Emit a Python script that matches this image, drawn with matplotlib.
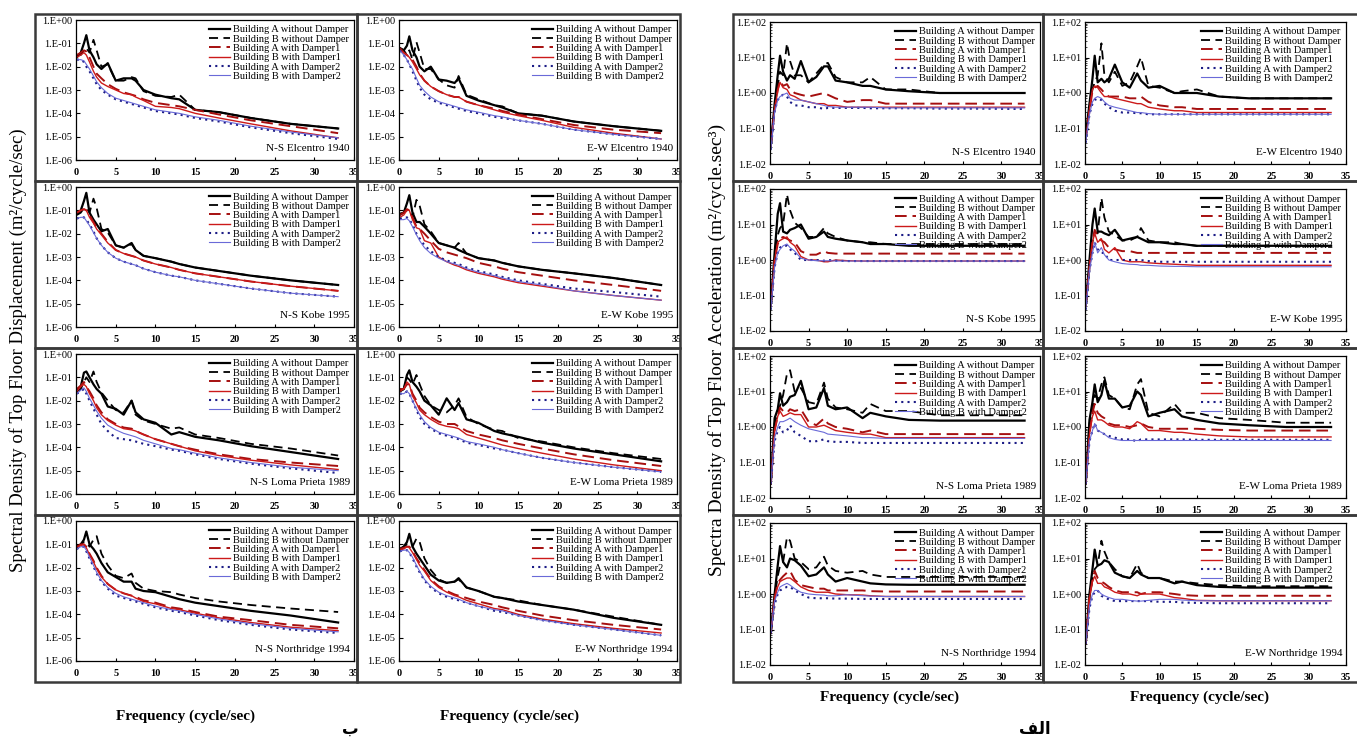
import numpy as np
import matplotlib
matplotlib.use('Agg')
import matplotlib.pyplot as plt
from matplotlib.patches import Rectangle
from matplotlib.ticker import FixedLocator, LogLocator, NullFormatter

plt.rcParams['font.family'] = ['Liberation Serif', 'DejaVu Serif']

# frequency grid (cycle/sec), values below are log10 of the spectral density
freq = [0.1, 0.6, 1.0, 1.3, 1.7, 2.2, 2.6, 3.2, 4.0, 5.0, 6.0, 7.0, 7.5, 8.5, 10, 12, 13, 15, 18, 22, 27, 33]

series_names = ['Building A without Damper', 'Building B without Damper',
                'Building A with Damper1', 'Building B with Damper1',
                'Building A with Damper2', 'Building B with Damper2']

# ---- displacement (group "b") ----
disp_ns_elcentro = [
    [-1.6, -1.4, -1.0, -0.65, -1.3, -1.6, -1.9, -2.1, -1.85, -2.6, -2.5, -2.5, -2.6, -3.0, -3.2, -3.35, -3.4, -3.85, -3.95, -4.2, -4.45, -4.65],
    [-1.5, -1.5, -1.3, -1.2, -1.4, -0.85, -1.3, -2.0, -1.9, -2.6, -2.6, -2.45, -2.5, -3.05, -3.25, -3.3, -3.2, -3.85, -3.95, -4.2, -4.45, -4.65],
    [-1.5, -1.4, -1.3, -1.35, -1.6, -2.0, -2.3, -2.5, -2.75, -2.95, -3.1, -3.2, -3.25, -3.4, -3.55, -3.65, -3.7, -3.85, -4.05, -4.3, -4.55, -4.85],
    [-1.6, -1.5, -1.4, -1.5, -1.8, -2.2, -2.45, -2.7, -2.85, -3.0, -3.15, -3.2, -3.3, -3.45, -3.7, -3.75, -3.8, -4.0, -4.2, -4.45, -4.75, -5.05],
    [-1.7, -1.7, -1.8, -2.0, -2.2, -2.5, -2.75, -3.0, -3.2, -3.4, -3.5, -3.6, -3.65, -3.75, -3.9, -4.0, -4.05, -4.2, -4.35, -4.6, -4.85, -5.1],
    [-1.7, -1.7, -1.75, -1.9, -2.1, -2.4, -2.65, -2.9, -3.15, -3.35, -3.45, -3.55, -3.6, -3.7, -3.85, -3.95, -4.0, -4.15, -4.3, -4.55, -4.8, -5.05],
]
disp_ew_elcentro = [
    [-1.2, -1.3, -1.1, -0.7, -1.3, -1.6, -2.0, -2.2, -2.0, -2.55, -2.6, -2.7, -2.5, -3.25, -3.45, -3.65, -3.75, -4.0, -4.1, -4.35, -4.55, -4.75],
    [-1.2, -1.3, -1.5, -1.3, -1.7, -0.95, -1.4, -2.1, -2.1, -2.55, -2.8, -2.9, -2.4, -3.2, -3.4, -3.65, -3.7, -4.0, -4.1, -4.35, -4.55, -4.75],
    [-1.2, -1.4, -1.5, -1.6, -1.7, -2.0, -2.3, -2.6, -2.85, -3.05, -3.2, -3.3, -3.3, -3.5, -3.65, -3.8, -3.9, -4.05, -4.25, -4.5, -4.7, -4.85],
    [-1.3, -1.4, -1.5, -1.6, -1.8, -2.1, -2.35, -2.6, -2.85, -3.05, -3.2, -3.3, -3.3, -3.5, -3.65, -3.85, -3.95, -4.1, -4.3, -4.6, -4.85, -5.1],
    [-1.3, -1.5, -1.7, -1.9, -2.2, -2.6, -2.9, -3.2, -3.4, -3.55, -3.65, -3.75, -3.8, -3.9, -4.0, -4.15, -4.2, -4.3, -4.45, -4.7, -4.9, -5.1],
    [-1.3, -1.5, -1.7, -1.9, -2.1, -2.5, -2.8, -3.05, -3.3, -3.5, -3.6, -3.7, -3.75, -3.85, -3.95, -4.1, -4.15, -4.3, -4.45, -4.7, -4.9, -5.1],
]
disp_ns_kobe = [
    [-1.15, -1.0, -0.6, -0.25, -1.1, -1.4, -1.6, -1.9, -1.8, -2.5, -2.6, -2.4, -2.7, -2.95, -3.05, -3.2, -3.3, -3.45, -3.6, -3.8, -4.0, -4.2],
    [-1.2, -1.1, -0.9, -0.9, -1.1, -0.5, -0.9, -1.8, -1.95, -2.5, -2.6, -2.45, -2.7, -2.95, -3.05, -3.2, -3.3, -3.45, -3.6, -3.8, -4.0, -4.2],
    [-1.1, -1.0, -0.95, -1.0, -1.2, -1.5, -1.75, -2.0, -2.35, -2.7, -2.85, -2.95, -3.0, -3.15, -3.3, -3.45, -3.55, -3.7, -3.85, -4.05, -4.25, -4.45],
    [-1.1, -1.0, -0.95, -1.0, -1.3, -1.55, -1.8, -2.05, -2.4, -2.7, -2.85, -2.95, -3.0, -3.15, -3.3, -3.45, -3.55, -3.7, -3.85, -4.05, -4.25, -4.45],
    [-1.35, -1.3, -1.3, -1.4, -1.6, -1.9, -2.2, -2.5, -2.8, -3.05, -3.2, -3.3, -3.35, -3.5, -3.65, -3.8, -3.85, -4.0, -4.15, -4.35, -4.55, -4.7],
    [-1.35, -1.3, -1.3, -1.45, -1.65, -1.95, -2.2, -2.5, -2.8, -3.05, -3.2, -3.3, -3.35, -3.5, -3.65, -3.8, -3.85, -4.0, -4.15, -4.35, -4.55, -4.7],
]
disp_ew_kobe = [
    [-1.15, -1.1, -0.7, -0.35, -1.1, -1.5, -1.5, -1.7, -2.0, -2.4, -2.5, -2.6, -2.7, -2.85, -3.05, -3.15, -3.25, -3.4, -3.55, -3.7, -3.9, -4.2],
    [-1.2, -1.1, -1.0, -1.0, -1.3, -0.55, -0.8, -1.6, -1.9, -2.4, -2.5, -2.6, -2.4, -2.85, -3.05, -3.15, -3.25, -3.4, -3.55, -3.7, -3.9, -4.2],
    [-1.2, -1.1, -0.95, -1.0, -1.3, -1.7, -1.8, -2.0, -2.3, -2.65, -2.8, -2.9, -2.95, -3.05, -3.25, -3.4, -3.5, -3.65, -3.8, -4.0, -4.2, -4.45],
    [-1.3, -1.2, -1.0, -1.0, -1.4, -1.75, -1.8, -2.3, -2.4, -3.0, -3.2, -3.35, -3.4, -3.55, -3.7, -3.85, -3.95, -4.1, -4.25, -4.45, -4.65, -4.85],
    [-1.35, -1.35, -1.3, -1.4, -1.6, -2.0, -2.2, -2.5, -2.75, -3.0, -3.15, -3.25, -3.3, -3.45, -3.6, -3.75, -3.85, -4.0, -4.15, -4.35, -4.5, -4.7],
    [-1.4, -1.4, -1.35, -1.45, -1.7, -2.05, -2.3, -2.6, -2.85, -3.05, -3.2, -3.3, -3.35, -3.5, -3.65, -3.8, -3.9, -4.05, -4.2, -4.45, -4.65, -4.85],
]
disp_ns_loma = [
    [-1.6, -1.4, -0.8, -0.75, -1.0, -1.3, -1.5, -1.7, -2.25, -2.35, -2.6, -2.0, -2.5, -2.8, -2.95, -3.45, -3.35, -3.55, -3.7, -3.95, -4.2, -4.5],
    [-1.6, -1.5, -1.2, -1.0, -1.2, -0.75, -1.2, -1.65, -2.0, -2.4, -2.5, -2.0, -2.6, -2.85, -3.0, -3.2, -3.15, -3.45, -3.6, -3.85, -4.05, -4.35],
    [-1.5, -1.35, -1.2, -1.4, -1.6, -1.9, -2.2, -2.5, -2.8, -3.0, -3.15, -3.2, -3.3, -3.45, -3.65, -3.85, -3.95, -4.1, -4.3, -4.5, -4.65, -4.8],
    [-1.6, -1.4, -1.3, -1.4, -1.7, -2.0, -2.3, -2.6, -2.85, -3.05, -3.2, -3.25, -3.3, -3.45, -3.65, -3.85, -3.95, -4.15, -4.35, -4.55, -4.75, -4.95],
    [-1.7, -1.6, -1.5, -1.7, -2.0, -2.35, -2.6, -3.0, -3.3, -3.6, -3.65, -3.7, -3.75, -3.85, -3.95, -4.1, -4.15, -4.3, -4.5, -4.7, -4.9, -5.1],
    [-1.7, -1.55, -1.45, -1.6, -1.9, -2.2, -2.45, -2.75, -3.05, -3.25, -3.4, -3.5, -3.55, -3.7, -3.85, -4.05, -4.1, -4.25, -4.45, -4.65, -4.85, -5.0],
]
disp_ew_loma = [
    [-1.6, -1.5, -0.9, -0.7, -1.2, -1.4, -1.6, -2.0, -2.2, -2.6, -1.9, -2.4, -2.1, -2.8, -2.95, -3.3, -3.4, -3.55, -3.8, -4.05, -4.3, -4.6],
    [-1.6, -1.5, -1.0, -1.1, -1.3, -0.9, -1.3, -1.8, -2.2, -2.4, -2.5, -2.2, -1.9, -2.7, -3.0, -3.25, -3.3, -3.6, -3.75, -4.0, -4.25, -4.5],
    [-1.5, -1.5, -1.3, -1.3, -1.7, -2.0, -2.3, -2.5, -2.7, -2.9, -3.0, -3.0, -3.1, -3.3, -3.45, -3.6, -3.7, -3.85, -4.05, -4.3, -4.55, -4.8],
    [-1.6, -1.5, -1.2, -1.3, -1.8, -2.1, -2.4, -2.6, -2.8, -3.0, -3.1, -3.15, -3.2, -3.45, -3.6, -3.8, -3.9, -4.05, -4.25, -4.5, -4.75, -5.0],
    [-1.7, -1.7, -1.6, -1.7, -2.0, -2.4, -2.7, -3.0, -3.2, -3.4, -3.5, -3.6, -3.65, -3.8, -3.9, -4.05, -4.1, -4.25, -4.45, -4.65, -4.85, -5.05],
    [-1.7, -1.7, -1.6, -1.7, -2.0, -2.35, -2.6, -2.9, -3.15, -3.35, -3.45, -3.55, -3.6, -3.75, -3.85, -4.0, -4.1, -4.25, -4.45, -4.65, -4.85, -5.05],
]
disp_ns_north = [
    [-1.1, -1.0, -0.8, -0.45, -1.0, -1.2, -1.4, -1.8, -2.2, -2.4, -2.6, -2.6, -2.9, -3.0, -3.05, -3.25, -3.35, -3.5, -3.65, -3.85, -4.05, -4.35],
    [-1.1, -1.0, -0.9, -0.9, -1.1, -0.8, -0.65, -1.4, -1.9, -2.35, -2.45, -2.25, -2.65, -2.9, -3.0, -3.05, -3.15, -3.3, -3.45, -3.6, -3.75, -3.9],
    [-1.1, -1.0, -1.0, -1.1, -1.4, -1.7, -2.0, -2.35, -2.7, -2.95, -3.1, -3.2, -3.25, -3.4, -3.5, -3.7, -3.75, -3.9, -4.1, -4.25, -4.45, -4.6],
    [-1.15, -1.05, -1.0, -1.15, -1.45, -1.75, -2.05, -2.4, -2.7, -2.95, -3.1, -3.2, -3.3, -3.45, -3.55, -3.75, -3.8, -3.95, -4.15, -4.35, -4.55, -4.7],
    [-1.2, -1.1, -1.1, -1.3, -1.6, -1.95, -2.25, -2.6, -2.9, -3.2, -3.3, -3.4, -3.45, -3.55, -3.7, -3.85, -3.9, -4.05, -4.25, -4.45, -4.65, -4.8],
    [-1.2, -1.1, -1.1, -1.25, -1.55, -1.9, -2.2, -2.55, -2.85, -3.1, -3.25, -3.35, -3.4, -3.5, -3.65, -3.8, -3.85, -4.0, -4.2, -4.4, -4.6, -4.75],
]
disp_ew_north = [
    [-1.2, -1.1, -0.9, -0.55, -1.1, -1.4, -1.6, -1.9, -2.3, -2.55, -2.65, -2.6, -2.45, -2.85, -3.0, -3.25, -3.3, -3.45, -3.6, -3.8, -4.15, -4.45],
    [-1.2, -1.1, -1.0, -1.0, -1.1, -0.75, -0.9, -1.6, -2.1, -2.5, -2.65, -2.6, -2.5, -2.85, -3.0, -3.25, -3.3, -3.4, -3.6, -3.8, -4.1, -4.45],
    [-1.2, -1.15, -1.1, -1.1, -1.3, -1.6, -1.8, -2.1, -2.5, -2.8, -3.0, -3.15, -3.2, -3.3, -3.45, -3.6, -3.7, -3.85, -4.05, -4.25, -4.45, -4.65],
    [-1.25, -1.2, -1.1, -1.15, -1.35, -1.65, -1.9, -2.15, -2.55, -2.85, -3.05, -3.2, -3.25, -3.4, -3.55, -3.75, -3.8, -4.0, -4.2, -4.4, -4.6, -4.8],
    [-1.3, -1.25, -1.25, -1.35, -1.6, -1.95, -2.2, -2.55, -2.85, -3.1, -3.25, -3.35, -3.4, -3.5, -3.65, -3.85, -3.9, -4.05, -4.25, -4.45, -4.65, -4.9],
    [-1.3, -1.25, -1.25, -1.35, -1.55, -1.9, -2.15, -2.5, -2.8, -3.05, -3.2, -3.3, -3.35, -3.5, -3.65, -3.8, -3.85, -4.05, -4.25, -4.45, -4.65, -4.9],
]

# ---- acceleration (group "alef") ----
acc_ns_elcentro = [
    [-1.5, -0.3, 0.5, 1.05, 0.6, 0.35, 0.5, 0.4, 0.9, 0.3, 0.45, 0.75, 0.75, 0.35, 0.3, 0.2, 0.2, 0.1, 0.05, 0.0, 0.0, 0.0],
    [-1.5, -0.4, 0.2, 0.6, 0.5, 1.4, 0.9, 0.5, 0.5, 0.3, 0.55, 0.8, 0.85, 0.45, 0.3, 0.3, 0.45, 0.1, 0.1, 0.0, 0.0, 0.0],
    [-1.5, -0.5, 0.1, 0.35, 0.2, 0.25, 0.1, 0.0, -0.05, -0.1, -0.05, 0.0, -0.05, -0.15, -0.25, -0.2, -0.2, -0.3, -0.3, -0.3, -0.3, -0.3],
    [-1.5, -0.45, 0.05, 0.3, 0.15, 0.1, -0.05, -0.1, -0.2, -0.25, -0.3, -0.3, -0.35, -0.35, -0.4, -0.4, -0.4, -0.4, -0.4, -0.4, -0.4, -0.4],
    [-1.6, -0.5, -0.2, -0.1, -0.05, -0.1, -0.25, -0.35, -0.35, -0.4, -0.4, -0.45, -0.42, -0.42, -0.42, -0.42, -0.43, -0.43, -0.43, -0.44, -0.44, -0.45],
    [-1.6, -0.55, -0.2, -0.1, -0.05, 0.0, -0.15, -0.2, -0.2, -0.25, -0.3, -0.35, -0.38, -0.4, -0.4, -0.4, -0.4, -0.42, -0.42, -0.42, -0.42, -0.42],
]
acc_ew_elcentro = [
    [-1.2, -0.3, 0.4, 1.05, 0.3, 0.4, 0.3, 0.4, 0.8, 0.3, 0.15, 0.55, 0.35, 0.15, 0.2, 0.0, 0.0, 0.0, -0.1, -0.15, -0.15, -0.15],
    [-1.2, -0.4, 0.1, 0.3, 0.5, 1.4, 0.5, 0.3, 0.6, 0.2, 0.3, 0.75, 1.0, 0.2, 0.15, 0.0, 0.05, 0.1, -0.1, -0.15, -0.15, -0.15],
    [-1.3, -0.5, 0.05, 0.15, 0.2, 0.1, 0.0, -0.1, -0.1, -0.1, -0.15, -0.15, -0.1, -0.25, -0.35, -0.4, -0.4, -0.45, -0.45, -0.45, -0.45, -0.45],
    [-1.3, -0.45, 0.1, 0.2, 0.15, 0.0, -0.1, -0.1, -0.15, -0.2, -0.25, -0.3, -0.3, -0.4, -0.45, -0.5, -0.5, -0.55, -0.55, -0.55, -0.55, -0.55],
    [-1.4, -0.6, -0.3, -0.2, -0.15, -0.2, -0.3, -0.4, -0.5, -0.55, -0.55, -0.57, -0.57, -0.6, -0.6, -0.6, -0.6, -0.6, -0.6, -0.6, -0.6, -0.6],
    [-1.4, -0.6, -0.25, -0.15, -0.1, -0.15, -0.25, -0.35, -0.4, -0.45, -0.5, -0.55, -0.55, -0.58, -0.6, -0.6, -0.6, -0.6, -0.6, -0.6, -0.6, -0.6],
]
acc_ns_kobe = [
    [-1.3, 0.2, 1.3, 1.6, 0.8, 0.75, 0.85, 0.9, 1.0, 0.6, 0.65, 0.8, 0.65, 0.6, 0.55, 0.5, 0.45, 0.45, 0.4, 0.4, 0.4, 0.4],
    [-1.3, 0.0, 0.7, 0.9, 1.0, 1.85, 1.4, 1.05, 0.9, 0.65, 0.65, 0.9, 0.75, 0.65, 0.55, 0.5, 0.5, 0.45, 0.45, 0.45, 0.45, 0.45],
    [-1.3, 0.0, 0.45, 0.6, 0.65, 0.6, 0.55, 0.5, 0.25, 0.15, 0.15, 0.25, 0.2, 0.18, 0.18, 0.18, 0.18, 0.18, 0.18, 0.18, 0.18, 0.18],
    [-1.3, 0.0, 0.5, 0.55, 0.6, 0.65, 0.5, 0.4, 0.1, 0.0, 0.0, -0.05, -0.05, 0.0, -0.02, -0.03, -0.03, -0.03, -0.03, -0.03, -0.03, -0.03],
    [-1.4, -0.2, 0.2, 0.35, 0.4, 0.4, 0.3, 0.2, 0.0, 0.0, 0.0, -0.02, 0.0, -0.02, -0.03, -0.03, -0.03, -0.03, -0.03, -0.03, -0.03, -0.03],
    [-1.4, -0.2, 0.2, 0.3, 0.4, 0.45, 0.35, 0.25, 0.05, 0.0, -0.02, -0.02, -0.02, -0.03, -0.03, -0.03, -0.03, -0.03, -0.03, -0.03, -0.03, -0.03],
]
acc_ew_kobe = [
    [-1.3, 0.0, 1.0, 1.45, 0.8, 0.8, 0.75, 0.7, 0.85, 0.55, 0.6, 0.65, 0.6, 0.5, 0.5, 0.45, 0.45, 0.4, 0.4, 0.4, 0.4, 0.4],
    [-1.3, -0.2, 0.5, 0.8, 0.75, 1.75, 1.2, 0.8, 0.7, 0.55, 0.55, 0.65, 0.9, 0.55, 0.5, 0.5, 0.45, 0.4, 0.4, 0.4, 0.4, 0.4],
    [-1.3, -0.2, 0.5, 0.85, 0.65, 0.55, 0.5, 0.35, 0.3, 0.25, 0.25, 0.2, 0.2, 0.2, 0.2, 0.2, 0.2, 0.2, 0.2, 0.2, 0.2, 0.2],
    [-1.3, -0.2, 0.5, 0.75, 0.5, 0.6, 0.3, 0.2, 0.35, 0.0, -0.05, -0.05, -0.05, -0.08, -0.1, -0.12, -0.13, -0.15, -0.15, -0.15, -0.15, -0.15],
    [-1.4, -0.3, 0.2, 0.5, 0.3, 0.2, 0.2, 0.0, 0.0, 0.0, 0.0, 0.0, 0.0, -0.03, -0.05, -0.05, -0.05, -0.05, -0.05, -0.05, -0.05, -0.05],
    [-1.4, -0.3, 0.2, 0.5, 0.2, 0.35, 0.15, 0.0, -0.05, -0.1, -0.12, -0.13, -0.15, -0.15, -0.17, -0.18, -0.18, -0.19, -0.19, -0.19, -0.19, -0.19],
]
acc_ns_loma = [
    [-1.6, 0.25, 0.5, 0.95, 0.6, 0.7, 0.85, 0.9, 1.3, 0.5, 0.55, 1.1, 0.6, 0.5, 0.55, 0.25, 0.4, 0.3, 0.2, 0.18, 0.18, 0.18],
    [-1.6, 0.1, 0.4, 0.6, 0.9, 1.5, 1.6, 1.0, 1.1, 0.7, 0.65, 1.25, 0.8, 0.55, 0.5, 0.4, 0.65, 0.45, 0.45, 0.33, 0.33, 0.33],
    [-1.6, -0.1, 0.3, 0.55, 0.45, 0.4, 0.5, 0.45, 0.5, 0.15, 0.05, 0.24, 0.1, 0.0, -0.05, -0.15, -0.1, -0.2, -0.2, -0.2, -0.2, -0.2],
    [-1.6, -0.1, 0.3, 0.45, 0.3, 0.35, 0.4, 0.35, 0.35, 0.0, 0.0, 0.05, 0.0, -0.1, -0.15, -0.2, -0.2, -0.3, -0.3, -0.3, -0.3, -0.3],
    [-1.6, -0.4, -0.1, 0.0, -0.15, -0.1, 0.05, -0.15, -0.25, -0.4, -0.4, -0.35, -0.4, -0.42, -0.42, -0.45, -0.45, -0.45, -0.45, -0.45, -0.45, -0.45],
    [-1.6, -0.3, 0.0, 0.15, 0.15, 0.2, 0.25, 0.15, 0.05, -0.05, -0.1, -0.15, -0.2, -0.22, -0.25, -0.3, -0.3, -0.32, -0.32, -0.32, -0.32, -0.32],
]
acc_ew_loma = [
    [-1.6, 0.2, 0.7, 1.2, 0.7, 0.9, 1.3, 0.8, 0.8, 0.55, 0.6, 1.0, 0.9, 0.3, 0.4, 0.5, 0.3, 0.2, 0.1, 0.05, 0.0, 0.0],
    [-1.6, 0.1, 0.4, 0.9, 0.8, 1.2, 1.4, 0.9, 0.8, 0.55, 0.5, 1.2, 1.35, 0.4, 0.3, 0.65, 0.4, 0.4, 0.25, 0.2, 0.12, 0.12],
    [-1.6, -0.2, 0.4, 0.65, 0.4, 0.3, 0.25, 0.1, 0.05, 0.05, 0.0, 0.05, 0.1, 0.0, -0.05, -0.05, -0.05, -0.05, -0.08, -0.1, -0.1, -0.1],
    [-1.6, -0.2, 0.3, 0.45, 0.2, 0.2, 0.15, 0.05, 0.0, 0.0, -0.05, 0.15, 0.1, -0.1, -0.1, -0.15, -0.15, -0.2, -0.25, -0.28, -0.28, -0.28],
    [-1.6, -0.4, -0.1, 0.1, -0.1, -0.15, -0.2, -0.25, -0.3, -0.35, -0.35, -0.4, -0.35, -0.35, -0.35, -0.35, -0.35, -0.36, -0.36, -0.36, -0.36, -0.36],
    [-1.6, -0.4, -0.1, 0.1, -0.1, -0.15, -0.2, -0.3, -0.35, -0.38, -0.38, -0.38, -0.38, -0.38, -0.38, -0.38, -0.38, -0.38, -0.38, -0.38, -0.38, -0.38],
]
acc_ns_north = [
    [-1.1, 0.0, 0.8, 1.35, 0.9, 0.75, 1.0, 0.95, 0.8, 0.5, 0.55, 0.75, 0.55, 0.35, 0.45, 0.35, 0.3, 0.27, 0.26, 0.26, 0.26, 0.26],
    [-1.1, -0.1, 0.5, 0.8, 0.9, 1.6, 1.5, 1.0, 0.9, 0.7, 0.75, 1.05, 0.8, 0.65, 0.6, 0.65, 0.55, 0.48, 0.48, 0.48, 0.48, 0.48],
    [-1.1, -0.1, 0.3, 0.4, 0.5, 0.6, 0.65, 0.4, 0.25, 0.2, 0.15, 0.15, 0.1, 0.1, 0.1, 0.1, 0.08, 0.07, 0.07, 0.07, 0.07, 0.07],
    [-1.1, -0.1, 0.2, 0.35, 0.4, 0.45, 0.45, 0.35, 0.2, 0.1, 0.05, 0.05, 0.05, 0.0, -0.02, -0.03, -0.05, -0.07, -0.07, -0.07, -0.07, -0.07],
    [-1.1, -0.3, 0.0, 0.1, 0.15, 0.2, 0.2, 0.1, 0.0, -0.1, -0.12, -0.12, -0.12, -0.13, -0.13, -0.14, -0.14, -0.14, -0.14, -0.14, -0.14, -0.14],
    [-1.1, -0.2, 0.05, 0.2, 0.25, 0.3, 0.25, 0.15, 0.05, 0.0, -0.02, -0.03, -0.05, -0.05, -0.02, -0.05, -0.06, -0.07, -0.07, -0.07, -0.07, -0.07],
]
acc_ew_north = [
    [-1.4, 0.0, 0.7, 1.25, 0.8, 0.85, 0.95, 0.9, 0.6, 0.5, 0.45, 0.65, 0.55, 0.45, 0.45, 0.3, 0.35, 0.25, 0.2, 0.18, 0.18, 0.18],
    [-1.4, -0.1, 0.4, 0.7, 0.8, 1.5, 1.2, 0.9, 0.7, 0.5, 0.45, 0.85, 0.6, 0.45, 0.45, 0.35, 0.35, 0.3, 0.25, 0.22, 0.22, 0.22],
    [-1.4, -0.1, 0.4, 0.65, 0.45, 0.35, 0.3, 0.2, 0.1, 0.05, 0.05, 0.05, 0.0, 0.05, 0.05, 0.0, -0.03, -0.05, -0.05, -0.05, -0.05, -0.05],
    [-1.4, -0.1, 0.35, 0.5, 0.3, 0.3, 0.2, 0.15, 0.05, 0.0, 0.0, -0.05, 0.0, 0.0, 0.0, -0.1, -0.12, -0.18, -0.19, -0.19, -0.19, -0.19],
    [-1.4, -0.4, -0.05, 0.05, 0.1, -0.05, -0.1, -0.15, -0.2, -0.2, -0.2, -0.2, -0.2, -0.2, -0.22, -0.22, -0.24, -0.25, -0.26, -0.26, -0.26, -0.26],
    [-1.4, -0.35, 0.0, 0.1, 0.1, 0.0, -0.05, -0.1, -0.15, -0.15, -0.18, -0.2, -0.2, -0.18, -0.15, -0.15, -0.17, -0.19, -0.19, -0.19, -0.19, -0.19],
]

disp_panels = [
    (disp_ns_elcentro, 'N-S Elcentro 1940'), (disp_ew_elcentro, 'E-W Elcentro 1940'),
    (disp_ns_kobe, 'N-S Kobe 1995'), (disp_ew_kobe, 'E-W Kobe 1995'),
    (disp_ns_loma, 'N-S Loma Prieta 1989'), (disp_ew_loma, 'E-W Loma Prieta 1989'),
    (disp_ns_north, 'N-S Northridge 1994'), (disp_ew_north, 'E-W Northridge 1994'),
]
acc_panels = [
    (acc_ns_elcentro, 'N-S Elcentro 1940'), (acc_ew_elcentro, 'E-W Elcentro 1940'),
    (acc_ns_kobe, 'N-S Kobe 1995'), (acc_ew_kobe, 'E-W Kobe 1995'),
    (acc_ns_loma, 'N-S Loma Prieta 1989'), (acc_ew_loma, 'E-W Loma Prieta 1989'),
    (acc_ns_north, 'N-S Northridge 1994'), (acc_ew_north, 'E-W Northridge 1994'),
]

styles = [
    dict(color='black', lw=1.6, ls='-'),
    dict(color='black', lw=1.3, ls=(0, (5, 3))),
    dict(color='#a50f0f', lw=1.4, ls=(0, (6, 3))),
    dict(color='#cc1a1a', lw=1.0, ls='-'),
    dict(color='#1c1c86', lw=1.5, ls=(0, (1, 2))),
    dict(color='#6a6ad8', lw=0.8, ls='-'),
]

W, H = 1357, 742
fig = plt.figure(figsize=(W / 100, H / 100), dpi=100)


def px_axes(x0, y0, x1, y1):
    return fig.add_axes([x0 / W, 1 - y1 / H, (x1 - x0) / W, (y1 - y0) / H])


def px_box(x0, y0, x1, y1):
    fig.add_artist(Rectangle((x0 / W, 1 - y1 / H), (x1 - x0) / W, (y1 - y0) / H,
                             transform=fig.transFigure, fill=False, lw=1.8, ec='#3a3a3a'))


def draw_panel(ax, data, title, ylim, yticks, ylabels):
    x = np.array(freq)
    for vals, name, st in zip(data, series_names, styles):
        ax.plot(x, 10.0 ** np.array(vals), label=name, **st)
    ax.set_yscale('log')
    ax.set_xlim(0, 35)
    ax.set_ylim(*ylim)
    ax.set_xticks(range(0, 36, 5))
    ax.set_xticklabels([str(v) for v in range(0, 36, 5)], fontweight='bold', fontsize=7.5)
    ax.yaxis.set_major_locator(FixedLocator(yticks))
    ax.set_yticklabels(ylabels, fontsize=7.5)
    ax.yaxis.set_minor_locator(LogLocator(base=10, subs=np.arange(2, 10)))
    ax.yaxis.set_minor_formatter(NullFormatter())
    ax.tick_params(axis='y', which='major', direction='in', length=3, width=0.8, pad=3)
    ax.tick_params(axis='y', which='minor', direction='in', length=1.5, width=0.5)
    ax.tick_params(axis='x', direction='in', length=2, pad=6)
    for sp in ax.spines.values():
        sp.set_linewidth(0.9)
    ax.legend(loc='upper right', frameon=False, fontsize=7.5, handlelength=2.0,
              handletextpad=0.3, labelspacing=0.0, borderaxespad=0.3, borderpad=0.2)
    ax.text(0.985, 0.05, title, transform=ax.transAxes, ha='right', va='bottom', fontsize=8)


row_tops = [14, 181, 348, 515]
row_h = 167

# left group: displacement
disp_ticks = [10.0 ** k for k in range(0, -7, -1)]
disp_labels = ['1.E+00', '1.E-01', '1.E-02', '1.E-03', '1.E-04', '1.E-05', '1.E-06']
left_boxes = [(35, 357), (357, 680)]
left_axes_x = [(76, 354), (399, 677)]
for i, (data, title) in enumerate(disp_panels):
    r, c = divmod(i, 2)
    top = row_tops[r]
    px_box(left_boxes[c][0], top, left_boxes[c][1], top + row_h)
    ax = px_axes(left_axes_x[c][0], top + 6, left_axes_x[c][1], top + 146)
    draw_panel(ax, data, title, (1e-6, 1.0), disp_ticks, disp_labels)

# right group: acceleration
acc_ticks = [10.0 ** k for k in range(2, -3, -1)]
acc_labels = ['1.E+02', '1.E+01', '1.E+00', '1.E-01', '1.E-02']
right_boxes = [(733, 1043), (1043, 1365)]
right_axes_x = [(770, 1040), (1085, 1346)]
for i, (data, title) in enumerate(acc_panels):
    r, c = divmod(i, 2)
    top = row_tops[r]
    px_box(right_boxes[c][0], top, right_boxes[c][1], top + row_h)
    ax = px_axes(right_axes_x[c][0], top + 8, right_axes_x[c][1], top + 150)
    draw_panel(ax, data, title, (1e-2, 1e2), acc_ticks, acc_labels)

fig.text(18 / W, 1 - 350 / H, 'Spectral Density of Top Floor Displacement (m\u00b2/cycle/sec)',
         rotation=90, ha='center', va='center', fontsize=13.5)
fig.text(717 / W, 1 - 350 / H, 'Spectra Density of Top Floor Acceleration (m\u00b2/cycle.sec\u00b3)',
         rotation=90, ha='center', va='center', fontsize=14)

for xc, yc in [(185, 716), (510, 716), (890, 697), (1200, 697)]:
    fig.text(xc / W, 1 - yc / H, 'Frequency (cycle/sec)', ha='center', va='center',
             fontsize=11, fontweight='bold')

# group captions (Arabic, glyphs given in visual order)
fig.text(350 / W, 1 - 729 / H, '\u0628', ha='center', va='center',
         fontsize=12, fontweight='bold', family='DejaVu Sans')
fig.text(1035 / W, 1 - 729 / H, '\ufed2\ufedf\ufe8d', ha='center', va='center',
         fontsize=12, fontweight='bold', family='DejaVu Sans')

fig.savefig('out.png', dpi=100, facecolor='white')
